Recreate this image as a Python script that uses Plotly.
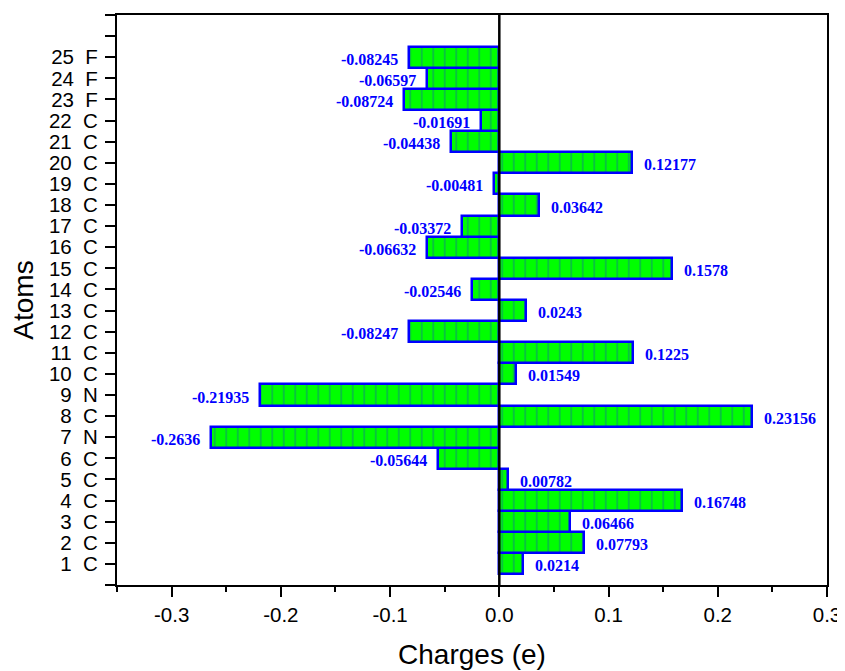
import plotly.graph_objects as go

atom_index = list(range(1, 26))
elements = ["C", "C", "C", "C", "C", "C", "N", "C", "N", "C",
            "C", "C", "C", "C", "C", "C", "C", "C", "C", "C",
            "C", "C", "F", "F", "F"]
charges = [0.0214, 0.07793, 0.06466, 0.16748, 0.00782, -0.05644, -0.2636, 0.23156,
           -0.21935, 0.01549, 0.1225, -0.08247, 0.0243, -0.02546, 0.1578, -0.06632,
           -0.03372, 0.03642, -0.00481, 0.12177, -0.04438, -0.01691, -0.08724,
           -0.06597, -0.08245]

x_tick_vals = [-0.3, -0.2, -0.1, 0.0, 0.1, 0.2, 0.3]
x_tick_text = ["-0.3", "-0.2", "-0.1", "0.0", "0.1", "0.2", "0.3"]
x_minor_vals = [-0.35, -0.25, -0.15, -0.05, 0.05, 0.15, 0.25]

y_tick_vals = list(range(0, 28))
y_tick_text = [""] + [f"{i}\u00a0\u00a0{e}" for i, e in zip(atom_index, elements)] + ["", ""]

fig = go.Figure()
fig.add_trace(go.Bar(
    x=charges, y=atom_index, orientation="h",
    marker=dict(color="#00ff00",
                line=dict(color="#0000ff", width=2.5),
                pattern=dict(shape="|", fgcolor="rgb(20,90,170)",
                             bgcolor="#00ff00", size=11.5, solidity=0.12)),
    width=1.0,
    showlegend=False,
    hoverinfo="x+y",
))

for yi, v in zip(atom_index, charges):
    fig.add_annotation(
        x=v, y=yi, text=str(v), showarrow=False,
        xanchor="left" if v >= 0 else "right",
        xshift=10 if v >= 0 else -9, yshift=-2,
        font=dict(family="Liberation Serif", size=16, color="#0000ff", weight="bold"),
    )

fig.add_shape(type="line", x0=0, x1=0, y0=0, y1=1, xref="x", yref="paper",
              line=dict(color="black", width=2.5), layer="above")

axis_font = dict(family="Liberation Sans, Arial", size=20.5, color="black")
title_font = dict(family="Liberation Sans, Arial", size=28, color="black")
fig.update_layout(
    width=837, height=663,
    margin=dict(l=109, r=18, t=7, b=86),
    plot_bgcolor="white", paper_bgcolor="white",
    bargap=0,
    xaxis=dict(range=[-0.35, 0.3], tickmode="array", tickvals=x_tick_vals,
               ticktext=x_tick_text, ticks="outside", ticklen=10, tickwidth=2,
               tickcolor="black", showline=True, linecolor="black", linewidth=2,
               mirror=True, showgrid=False, zeroline=False, tickfont=axis_font,
               automargin=False,
               minor=dict(tickmode="array", tickvals=x_minor_vals, ticks="outside",
                          ticklen=5, tickwidth=2, tickcolor="black", showgrid=False),
               title=dict(text="Charges (e)", font=title_font, standoff=20)),
    yaxis=dict(range=[0, 27], tickmode="array", tickvals=y_tick_vals,
               ticktext=y_tick_text, ticks="outside", ticklen=10, tickwidth=2,
               tickcolor="black", showline=True, linecolor="black", linewidth=2,
               mirror=True, showgrid=False, zeroline=False, tickfont=axis_font,
               automargin=False, ticklabelstandoff=3,
               title=dict(text="Atoms", font=title_font, standoff=15)),
)

fig.write_html("out.html")
